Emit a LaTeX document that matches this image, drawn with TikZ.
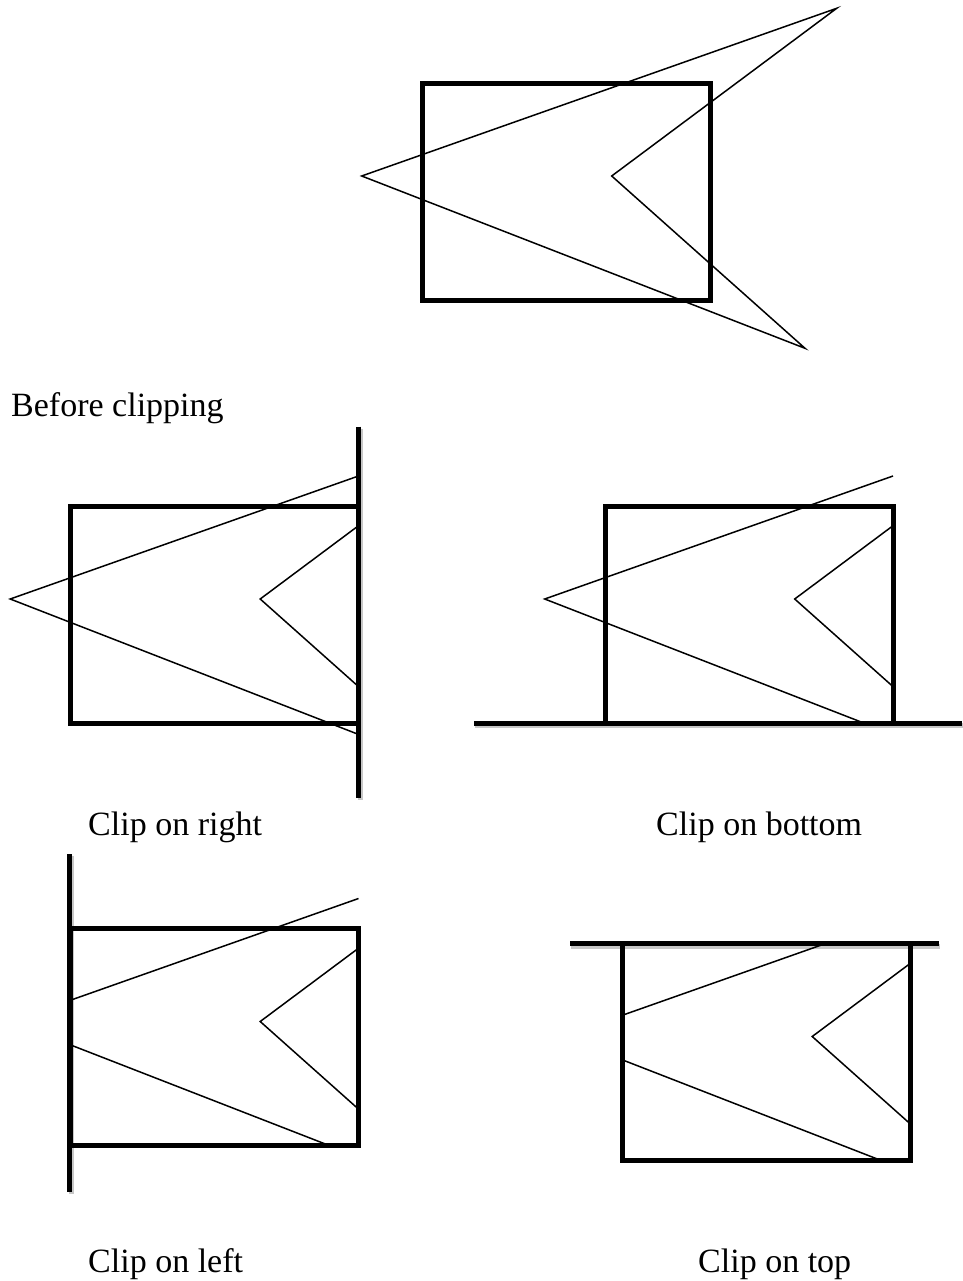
\documentclass[tikz,border=0pt]{standalone}
\usepackage{fontspec}
\setmainfont{Liberation Serif}
\begin{document}
\begin{tikzpicture}[x=1pt,y=-1pt,
  frame/.style={draw=black, line width=5pt, line join=miter},
  thin/.style={draw=black, line width=1.5pt, line join=miter},
  clipline/.style={draw=black, line width=5pt},
  clipshadow/.style={draw=black!22, line width=5pt},
  lbl/.style={inner sep=0pt, anchor=base west, font=\fontsize{34}{40}\selectfont}]
\useasboundingbox (0,0) rectangle (962,1281);

% ---------- Before clipping ----------
\coordinate (L) at (361.7,176);
\coordinate (T) at (836.7,8.3);
\coordinate (N) at (611.7,176);
\coordinate (B) at (805,348.3);
\draw[frame] (422,83.3) rectangle (710,300);
\draw[thin] (L) -- (T) -- (N) -- (B) -- cycle;
\node[lbl] (t1) at (11,416) {Before clipping};

% ---------- Clip on right ----------
\begin{scope}[shift={(-351.5,423)}]
  \coordinate (Lr) at (361.7,176);
  \coordinate (Nr) at (611.7,176);
  \coordinate (Tr) at (710,53);
  \coordinate (Ur) at (710,102.7);
  \coordinate (Dr) at (710,263.6);
  \coordinate (Br) at (710,311.4);
  \coordinate (c1a) at (710,3.7);
  \coordinate (c1b) at (710,375.3);
  \draw[clipshadow] ([shift={(1.5,2)}]c1a) -- ([shift={(1.5,2)}]c1b);
  \draw[frame] (422,83.3) rectangle (710,300);
  \draw[thin] (Tr) -- (Lr) -- (Br);
  \draw[thin] (Ur) -- (Nr) -- (Dr);
  \draw[clipline] (c1a) -- (c1b);
\end{scope}
\node[lbl] (t2) at (88,835) {Clip on right};

% ---------- Clip on bottom ----------
\begin{scope}[shift={(183,423)}]
  \coordinate (Lb) at (361.7,176);
  \coordinate (Nb) at (611.7,176);
  \coordinate (Tb) at (710,53);
  \coordinate (Ub) at (710,102.7);
  \coordinate (Db) at (710,263.6);
  \coordinate (Bb) at (680.7,300);
  \coordinate (c2a) at (291,300);
  \coordinate (c2b) at (779,300);
  \draw[clipshadow] ([shift={(1,2.5)}]c2a) -- ([shift={(1,2.5)}]c2b);
  \draw[frame] (422,83.3) rectangle (710,300);
  \draw[thin] (Tb) -- (Lb) -- (Bb);
  \draw[thin] (Ub) -- (Nb) -- (Db);
  \draw[clipline] (c2a) -- (c2b);
\end{scope}
\node[lbl] (t3) at (656,835) {Clip on bottom};

% ---------- Clip on left ----------
\begin{scope}[shift={(-351.5,845.5)}]
  \coordinate (Pl) at (422,154.7);
  \coordinate (Ql) at (422,199.4);
  \coordinate (Nl) at (611.7,176);
  \coordinate (Tl) at (710,53);
  \coordinate (Ul) at (710,102.7);
  \coordinate (Dl) at (710,263.6);
  \coordinate (Bl) at (680.7,300);
  \coordinate (c3a) at (421,8.5);
  \coordinate (c3b) at (421,346.2);
  \draw[clipshadow] ([shift={(1.5,2)}]c3a) -- ([shift={(1.5,2)}]c3b);
  \draw[frame] (422,83.3) rectangle (710,300);
  \draw[thin] (Pl) -- (Tl);
  \draw[thin] (Ql) -- (Bl);
  \draw[thin] (Ul) -- (Nl) -- (Dl);
  \draw[clipline] (c3a) -- (c3b);
\end{scope}
\node[lbl] (t4) at (88,1272) {Clip on left};

% ---------- Clip on top ----------
\begin{scope}[shift={(200.5,860.5)}]
  \coordinate (Pt) at (422,154.7);
  \coordinate (Qt) at (422,199.4);
  \coordinate (Nt) at (611.7,176);
  \coordinate (Tt) at (624.3,83.3);
  \coordinate (Ut) at (710,102.7);
  \coordinate (Dt) at (710,263.6);
  \coordinate (Bt) at (680.7,300);
  \coordinate (c4a) at (369.5,83.3);
  \coordinate (c4b) at (738.8,83.3);
  \draw[clipshadow] ([shift={(1,2.5)}]c4a) -- ([shift={(1,2.5)}]c4b);
  \draw[frame] (422,83.3) rectangle (710,300);
  \draw[thin] (Pt) -- (Tt);
  \draw[thin] (Qt) -- (Bt);
  \draw[thin] (Ut) -- (Nt) -- (Dt);
  \draw[clipline] (c4a) -- (c4b);
\end{scope}
\node[lbl] (t5) at (698,1272) {Clip on top};
\end{tikzpicture}
\end{document}
